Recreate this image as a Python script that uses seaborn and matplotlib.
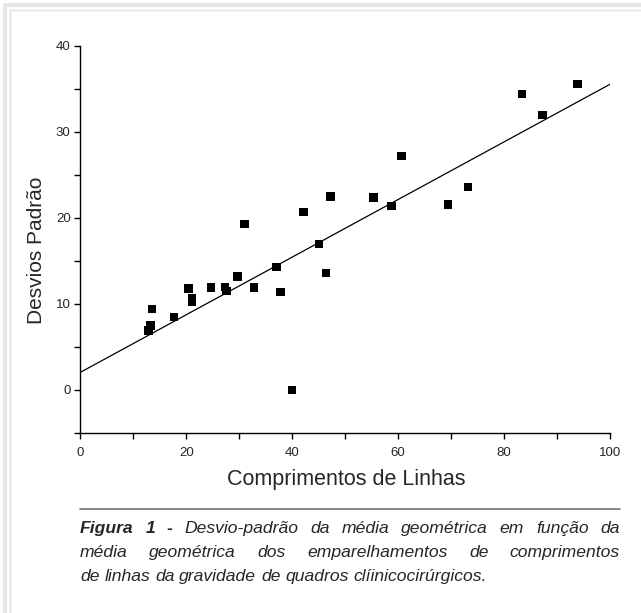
import matplotlib
matplotlib.use("Agg")
import matplotlib.pyplot as plt
import numpy as np
import pandas as pd
import seaborn as sns
from matplotlib.lines import Line2D
from matplotlib.patches import Rectangle
from matplotlib.ticker import MultipleLocator

# data
comprimentos = [12.9, 13.2, 13.5, 17.7, 20.4, 21.1, 21.1, 24.7, 27.3, 27.6,
                29.7, 31.0, 32.8, 37.0, 37.8, 40.0, 42.1, 45.1, 46.4, 47.2,
                55.3, 58.8, 60.6, 69.4, 73.2, 83.4, 87.3, 93.9]
desvios = [6.9, 7.5, 9.4, 8.5, 11.8, 10.7, 10.3, 11.9, 12.0, 11.5,
           13.2, 19.3, 11.9, 14.3, 11.4, 0.0, 20.7, 17.0, 13.6, 22.5,
           22.4, 21.4, 27.2, 21.6, 23.6, 34.4, 32.0, 35.6]
fit_intercept = 2.05
fit_slope = 0.335
fit_range = [0, 100]

x_ticks = [0, 20, 40, 60, 80, 100]
y_ticks = [0, 10, 20, 30, 40]

caption_lines = [
    [("Figura", "bold"), ("1", "bold"), ("-", "bold"), ("Desvio-padrão", "normal"),
     ("da", "normal"), ("média", "normal"), ("geométrica", "normal"), ("em", "normal"),
     ("função", "normal"), ("da", "normal")],
    [("média", "normal"), ("geométrica", "normal"), ("dos", "normal"),
     ("emparelhamentos", "normal"), ("de", "normal"), ("comprimentos", "normal")],
    [("de", "normal"), ("linhas", "normal"), ("da", "normal"), ("gravidade", "normal"),
     ("de", "normal"), ("quadros", "normal"), ("clíinicocirúrgicos.", "normal")],
]

W, H = 641, 613


def put_line(fig, tokens, x0, x1, y, size, justify=True):
    renderer = fig.canvas.get_renderer()
    texts = [fig.text(0, 1 - y / H, w, fontsize=size, style="italic", weight=wt,
                      ha="left", va="baseline") for w, wt in tokens]
    widths = [t.get_window_extent(renderer).width for t in texts]
    if justify:
        gap = (x1 - x0 - sum(widths)) / (len(texts) - 1)
    else:
        a = fig.text(0, 0, "a a", fontsize=size, style="italic")
        b = fig.text(0, 0, "aa", fontsize=size, style="italic")
        gap = a.get_window_extent(renderer).width - b.get_window_extent(renderer).width
        a.remove()
        b.remove()
    x = x0
    for t, w in zip(texts, widths):
        t.set_x(x / W)
        x += w + gap


sns.set_theme(style="ticks")
plt.rcParams["font.family"] = ["Liberation Sans", "DejaVu Sans"]

fig = plt.figure(figsize=(W / 100, H / 100), dpi=100)
ax = fig.add_axes([80.3 / W, 1 - 433 / H, (610 - 80.3) / W, (433 - 46) / H])

df = pd.DataFrame({"Comprimentos": comprimentos, "Desvios": desvios})
fit_x = np.array(fit_range, dtype=float)
fit_df = pd.DataFrame({"x": fit_x, "y": fit_intercept + fit_slope * fit_x})

sns.lineplot(data=fit_df, x="x", y="y", ax=ax, color="black", linewidth=0.9)
sns.scatterplot(data=df, x="Comprimentos", y="Desvios", ax=ax, marker="s",
                s=38, color="black", edgecolor="none", zorder=3)

ax.set_xlim(0, 100)
ax.set_ylim(-5, 40)
ax.set_xticks(x_ticks)
ax.set_yticks(y_ticks)
ax.xaxis.set_minor_locator(MultipleLocator(10))
ax.yaxis.set_minor_locator(MultipleLocator(5))
ax.tick_params(which="both", direction="out", length=4, width=1, color="black",
               labelsize=9.5, pad=3)
ax.tick_params(axis="x", which="major", pad=6)
for side in ["left", "bottom"]:
    ax.spines[side].set_linewidth(1)
    ax.spines[side].set_color("black")
sns.despine(ax=ax)

ax.set_xlabel("Comprimentos de Linhas", fontsize=15.5)
ax.set_ylabel("Desvios Padrão", fontsize=15)
ax.xaxis.set_label_coords(0.5016, -0.121)
ax.yaxis.set_label_coords(-0.082, 0.473)
ax.xaxis.label.set_va("center")
ax.yaxis.label.set_va("center")

# frame round the picture (top and left edges)
fig.patches.append(Rectangle((3 / W, 0), 4 / W, 1 - 3 / H, transform=fig.transFigure,
                             color="#e6e6e6", lw=0))
fig.patches.append(Rectangle((3 / W, 1 - 7 / H), 1 - 3 / W, 4 / H, transform=fig.transFigure,
                             color="#e6e6e6", lw=0))
fig.lines.append(Line2D([9.5 / W, 9.5 / W], [0, 1 - 9.5 / H], transform=fig.transFigure,
                        color="#e0e0e0", lw=1))
fig.lines.append(Line2D([9.5 / W, 1], [1 - 9.5 / H, 1 - 9.5 / H], transform=fig.transFigure,
                        color="#e0e0e0", lw=1))

# caption
fig.lines.append(Line2D([80 / W, 620 / W], [1 - 509 / H, 1 - 509 / H],
                        transform=fig.transFigure, color="#808080", lw=1.3))
fig.canvas.draw()
put_line(fig, caption_lines[0], 80, 620, 533, 12.6)
put_line(fig, caption_lines[1], 80, 620, 557, 12.6)
put_line(fig, caption_lines[2], 80, 620, 581, 12.6, justify=False)

fig.savefig("out.png", dpi=100)
plt.close(fig)
